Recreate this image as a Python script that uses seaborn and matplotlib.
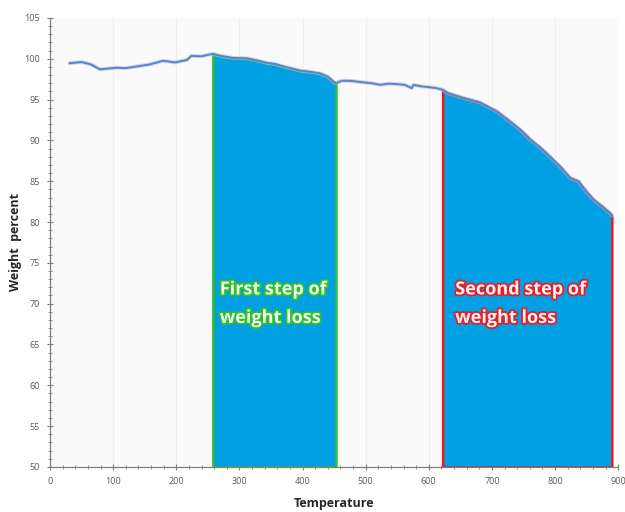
import numpy as np
import pandas as pd
import matplotlib
matplotlib.use("Agg")
import matplotlib.pyplot as plt
import matplotlib.patheffects as pe
from matplotlib.ticker import MultipleLocator
import seaborn as sns

# Thermogravimetric curve: temperature (°C) vs remaining weight (%)
temperature = [31, 50, 65, 79, 92, 106, 120, 137, 158, 179, 198, 217, 224, 240,
               248, 258, 270, 290, 312, 330, 343, 357, 370, 383, 396, 412, 428,
               440, 449, 453, 462, 475, 497, 510, 523, 536, 549, 562, 573, 576,
               590, 602, 612, 622, 630, 655, 681, 708, 729, 745, 761, 777, 792,
               808, 824, 837, 850, 861, 875, 887, 890]
weight = [99.45, 99.6, 99.3, 98.7, 98.8, 98.9, 98.85, 99.05, 99.3, 99.75, 99.55,
          99.85, 100.35, 100.3, 100.45, 100.6, 100.35, 100.1, 100.05, 99.75, 99.5,
          99.35, 99.05, 98.8, 98.55, 98.4, 98.2, 97.8, 97.2, 97.0, 97.3, 97.3,
          97.1, 97.0, 96.8, 96.95, 96.9, 96.8, 96.4, 96.8, 96.6, 96.5, 96.4, 96.2,
          95.8, 95.2, 94.65, 93.55, 92.3, 91.3, 90.1, 89.1, 88.0, 86.8, 85.4,
          85.0, 83.7, 82.75, 81.9, 81.1, 80.8]

# Temperature windows of the two mass-loss steps
step_ranges = [(258, 453), (622, 890)]
step_labels = ["First step of\nweight loss", "Second step of\nweight loss"]
step_edges = ["#2fbf2f", "#e41e2b"]
step_text_fill = ["#f2ffee", "#fff4f4"]
label_x = [269, 642]
label_y = 70.0

df = pd.DataFrame({"Temperature": temperature, "Weight": weight})

sns.set_theme(style="white")
plt.rcParams["font.family"] = ["Open Sans", "DejaVu Sans"]

fig = plt.figure(figsize=(6.25, 5.12), dpi=100)
ax = fig.add_axes([0.08, 0.088, 0.909, 0.877])
ax.set_facecolor("#fafafa")

# Shaded mass-loss regions
for (lo, hi), edge in zip(step_ranges, step_edges):
    seg = df[(df.Temperature >= lo) & (df.Temperature <= hi)]
    ax.fill_between(seg.Temperature, 50, seg.Weight, facecolor="#00a0e2",
                    edgecolor=edge, linewidth=1.8, zorder=2)

sns.lineplot(data=df, x="Temperature", y="Weight", ax=ax, color="#5b86c5",
             linewidth=1.4, zorder=3,
             path_effects=[pe.Stroke(linewidth=2.8, foreground="#a9bfdf", alpha=0.6),
                           pe.Normal()])

for txt, x, edge, fill in zip(step_labels, label_x, step_edges, step_text_fill):
    ax.text(x, label_y, txt, ha="left", va="center", fontsize=13,
            fontweight="bold", color=fill, linespacing=1.75, zorder=4,
            path_effects=[pe.withStroke(linewidth=2.6, foreground=edge)])

ax.set_xlim(0, 900)
ax.set_ylim(50, 105)
ax.xaxis.set_major_locator(MultipleLocator(100))
ax.xaxis.set_minor_locator(MultipleLocator(20))
ax.yaxis.set_major_locator(MultipleLocator(5))
ax.yaxis.set_minor_locator(MultipleLocator(1))

ax.grid(axis="x", which="major", color="#efefef", linewidth=0.8, zorder=0)
ax.set_axisbelow(True)

for side in ["top", "right"]:
    ax.spines[side].set_visible(False)
for side in ["left", "bottom"]:
    ax.spines[side].set_color("#7f7f7f")
    ax.spines[side].set_linewidth(0.9)

ax.tick_params(axis="both", which="major", direction="inout", length=5,
               width=0.8, color="#7f7f7f", labelsize=6.5, labelcolor="#595959",
               pad=5)
ax.tick_params(axis="both", which="minor", direction="inout", length=3,
               width=0.6, color="#7f7f7f")
ax.tick_params(axis="x", which="both", bottom=True)
ax.tick_params(axis="y", which="both", left=True)

ax.set_xlabel("Temperature", fontsize=9, fontweight="bold", color="#262626")
ax.set_ylabel("Weight  percent", fontsize=9, fontweight="bold", color="#262626")
ax.xaxis.set_label_coords(0.5, -0.068)
ax.yaxis.set_label_coords(-0.05, 0.5)

fig.savefig("out.png", dpi=100, facecolor="white")
